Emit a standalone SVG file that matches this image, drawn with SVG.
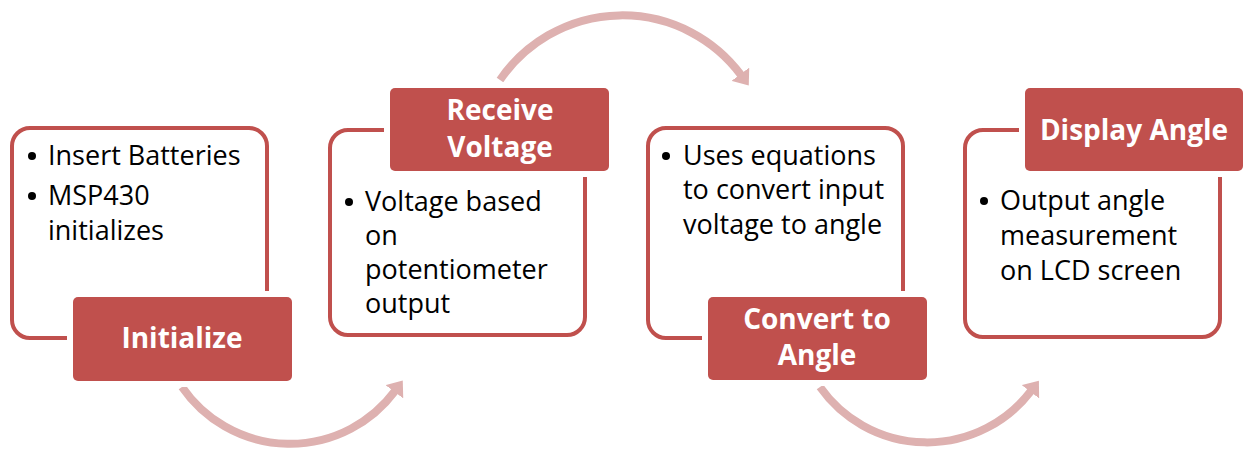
<svg xmlns="http://www.w3.org/2000/svg" width="1246" height="452" viewBox="0 0 1246 452">
  <style>
    .frame { fill: #ffffff; stroke: #c0504d; stroke-width: 4; }
    .halo { fill: #ffffff; }
    .label { fill: #c0504d; }
    .title { font-family: "Open Sans", Lato, "Liberation Sans", sans-serif; font-weight: bold; font-size: 28px; fill: #ffffff; text-anchor: middle; }
    .body { font-family: "Open Sans", Lato, "Liberation Sans", sans-serif; font-size: 27px; fill: #000000; }
    .dot { fill: #000000; }
    .flow { fill: none; stroke: #deb1b0; stroke-width: 8; marker-end: url(#head); }
  </style>
  <defs>
    <marker id="head" markerUnits="userSpaceOnUse" viewBox="0 -11 14 22" markerWidth="14" markerHeight="22" refX="1" refY="0" orient="auto">
      <path d="M0,-11 L14,0 L0,11 Z" fill="#deb1b0"/>
    </marker>
  </defs>
  <rect width="1246" height="452" fill="#ffffff"/>

  <g id="connectors">
    <path class="flow" d="M182,387 A131,131 0 0 0 395,391"/>
    <path class="flow" d="M500,80 A148,148 0 0 1 741,75"/>
    <path class="flow" d="M820,387 A131,131 0 0 0 1031,391"/>
  </g>

  <g id="initialize">
    <rect class="frame" x="12" y="128" width="255" height="210" rx="18"/>
    <circle class="dot" cx="32" cy="156" r="4"/>
    <text class="body" x="48" y="165">Insert Batteries</text>
    <circle class="dot" cx="32" cy="196" r="4"/>
    <text class="body"><tspan x="48" y="205">MSP430</tspan><tspan x="48" y="240">initializes</tspan></text>
    <rect class="halo" x="67" y="291" width="231" height="96" rx="8"/>
    <rect class="label" x="73" y="297" width="219" height="84" rx="5"/>
    <text class="title" x="182" y="348">Initialize</text>
  </g>

  <g id="receive-voltage">
    <rect class="frame" x="330" y="130" width="255" height="205" rx="18"/>
    <circle class="dot" cx="349" cy="202" r="4"/>
    <text class="body"><tspan x="365" y="211">Voltage based</tspan><tspan x="365" y="245">on</tspan><tspan x="365" y="279">potentiometer</tspan><tspan x="365" y="313">output</tspan></text>
    <rect class="halo" x="384" y="82" width="231" height="95" rx="8"/>
    <rect class="label" x="390" y="88" width="219" height="83" rx="5"/>
    <text class="title"><tspan x="500" y="120">Receive</tspan><tspan x="500" y="157">Voltage</tspan></text>
  </g>

  <g id="convert-to-angle">
    <rect class="frame" x="648" y="128" width="255" height="210" rx="18"/>
    <circle class="dot" cx="666" cy="156" r="4"/>
    <text class="body"><tspan x="683" y="165">Uses equations</tspan><tspan x="683" y="199">to convert input</tspan><tspan x="683" y="234">voltage to angle</tspan></text>
    <rect class="halo" x="702" y="291" width="231" height="95" rx="8"/>
    <rect class="label" x="708" y="297" width="219" height="83" rx="5"/>
    <text class="title"><tspan x="817" y="329">Convert to</tspan><tspan x="817" y="365">Angle</tspan></text>
  </g>

  <g id="display-angle">
    <rect class="frame" x="965" y="130" width="255" height="207" rx="18"/>
    <circle class="dot" cx="984" cy="201" r="4"/>
    <text class="body"><tspan x="1000" y="210">Output angle</tspan><tspan x="1000" y="245">measurement</tspan><tspan x="1000" y="280">on LCD screen</tspan></text>
    <rect class="halo" x="1019" y="82" width="227" height="95" rx="8"/>
    <rect class="label" x="1025" y="88" width="218" height="83" rx="5"/>
    <text class="title" x="1134" y="140">Display Angle</text>
  </g>
</svg>
